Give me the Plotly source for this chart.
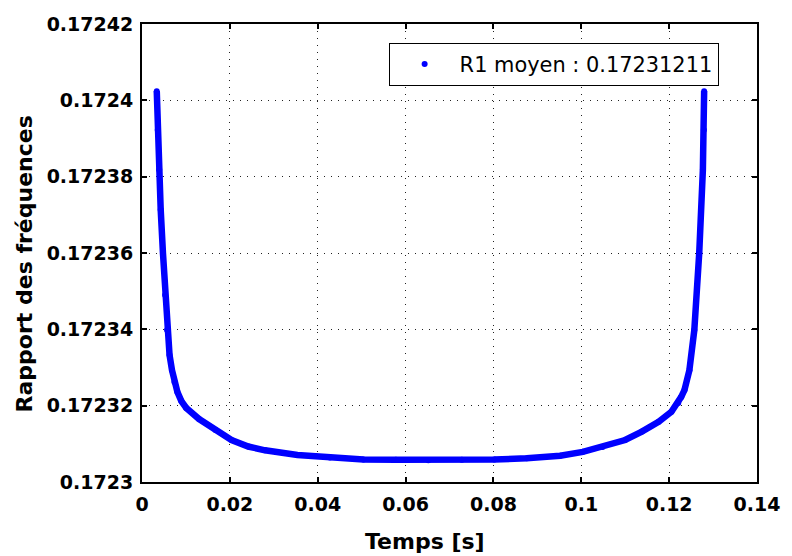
import plotly.graph_objects as go

# Temps (s) et rapport des fréquences R1 le long de la courbe
temps = [
    0.00336, 0.00358, 0.00392, 0.00426, 0.00477, 0.00526, 0.00571, 0.00627,
    0.00683, 0.00739, 0.00806, 0.00896, 0.01008, 0.01299, 0.01673, 0.02038,
    0.02419, 0.02800, 0.03539, 0.04278, 0.05040, 0.05779, 0.06518, 0.07280,
    0.08020, 0.08758, 0.09520, 0.10035, 0.10483, 0.10998, 0.11379, 0.11760,
    0.12051, 0.12208, 0.12275, 0.12349, 0.12461, 0.12573, 0.12685, 0.12768,
    0.12790, 0.12797,
]
rapport = [
    0.1724024, 0.1723922, 0.1723818, 0.1723713, 0.1723600, 0.1723490, 0.1723398, 0.1723333,
    0.1723293, 0.1723262, 0.1723236, 0.1723212, 0.1723194, 0.1723165, 0.1723136, 0.1723110,
    0.1723093, 0.1723083, 0.1723071, 0.1723064, 0.1723059, 0.1723058, 0.1723057, 0.1723058,
    0.1723059, 0.1723062, 0.1723069, 0.1723079, 0.1723092, 0.1723110, 0.1723132, 0.1723158,
    0.1723184, 0.1723207, 0.1723223, 0.1723241, 0.1723293, 0.1723398, 0.1723600, 0.1723818,
    0.1723922, 0.1724024,
]
r1_moyen = "0.17231211"

x_ticks = [0, 0.02, 0.04, 0.06, 0.08, 0.1, 0.12, 0.14]
x_labels = ["0", "0.02", "0.04", "0.06", "0.08", "0.1", "0.12", "0.14"]
y_ticks = [0.1723, 0.17232, 0.17234, 0.17236, 0.17238, 0.1724, 0.17242]
y_labels = ["0.1723", "0.17232", "0.17234", "0.17236", "0.17238", "0.1724", "0.17242"]

BLUE = "#0000FF"
FONT = "DejaVu Sans"

fig = go.Figure()
fig.add_trace(go.Scatter(
    x=temps, y=rapport, mode="lines",
    line=dict(color=BLUE, width=6.5),
    showlegend=False, hoverinfo="skip",
))
fig.add_trace(go.Scatter(
    x=temps, y=rapport, mode="markers",
    marker=dict(color=BLUE, size=6, symbol="circle"),
    name=f"R1 moyen : {r1_moyen}",
))

axis_common = dict(
    showline=True, linecolor="black", linewidth=2, mirror="ticks",
    ticks="inside", ticklen=5, tickwidth=2, tickcolor="black",
    showgrid=True, gridcolor="#222222", gridwidth=1, griddash="1px,6px",
    zeroline=False,
    tickfont=dict(family=FONT, size=19, color="black", weight="bold"),
)

fig.update_xaxes(range=[0, 0.14], tickvals=x_ticks, ticktext=x_labels,
                 ticklabelstandoff=4, **axis_common)
fig.update_yaxes(range=[0.1723, 0.17242], tickvals=y_ticks, ticktext=y_labels,
                 ticklabelstandoff=3, **axis_common)

fig.update_layout(
    width=792, height=556,
    margin=dict(l=142, r=25, t=24, b=74),
    paper_bgcolor="white", plot_bgcolor="white",
    legend=dict(
        x=0.9376, y=0.9585, xanchor="right", yanchor="top",
        bgcolor="white", bordercolor="black", borderwidth=1,
        itemwidth=60,
        font=dict(family=FONT, size=20.9, color="black"),
    ),
    annotations=[
        dict(text="<b>Temps [s]</b>", xref="paper", yref="paper",
             x=0.4608, y=-0.13, xanchor="center", yanchor="middle",
             showarrow=False, font=dict(family=FONT, size=22, color="black")),
        dict(text="<b>Rapport des fréquences</b>", xref="paper", yref="paper",
             x=-0.1904, y=0.477, xanchor="center", yanchor="middle", textangle=-90,
             showarrow=False, font=dict(family=FONT, size=22, color="black")),
    ],
)

fig.write_html("out.html")
